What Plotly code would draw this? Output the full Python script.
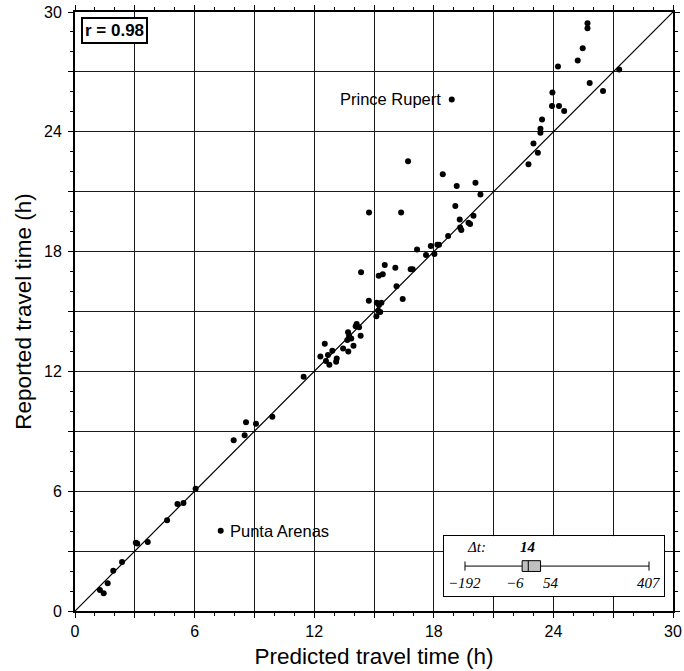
import plotly.graph_objects as go

# ---- data ----
predicted = [
    1.25, 1.44, 1.64, 1.92, 2.36, 3.05, 3.12, 3.65, 4.62, 5.14, 5.44, 6.05, 7.31,
    7.96, 8.51, 8.58, 9.08, 9.90, 11.47,
    12.31, 12.53, 12.69, 12.91, 12.59, 12.76, 13.13, 13.10, 13.45, 13.71, 13.97,
    13.66, 13.70, 13.75, 13.86, 14.33, 14.13, 14.08, 14.25, 15.12, 15.22, 15.31,
    14.74, 15.14, 15.37, 15.25, 16.44, 16.13,
    14.35, 15.24, 15.44, 15.54, 16.07, 16.84, 16.94, 17.61, 18.03, 17.85, 18.18,
    18.26, 17.16, 18.72, 19.32, 19.38, 19.74, 19.82, 19.30, 19.99, 19.08, 14.75,
    16.36, 20.34, 19.15, 20.09, 18.45, 16.71,
    22.75, 23.22, 23.00, 23.35, 23.35, 23.43, 23.93, 24.28, 24.54, 23.95, 25.82,
    26.49, 27.30, 24.23, 25.22, 25.47, 25.71, 25.71, 18.90,
]
reported = [
    1.05, 0.89, 1.39, 2.02, 2.45, 3.42, 3.38, 3.46, 4.54, 5.36, 5.41, 6.12, 4.02,
    8.55, 8.80, 9.45, 9.38, 9.73, 11.73,
    12.74, 13.39, 12.82, 13.04, 12.52, 12.33, 12.64, 12.48, 13.15, 13.00, 13.29,
    13.57, 13.96, 13.77, 13.65, 13.79, 14.37, 14.26, 14.21, 14.76, 15.04, 14.97,
    15.54, 15.44, 15.44, 15.32, 15.62, 16.27,
    16.96, 16.79, 16.86, 17.33, 17.19, 17.11, 17.11, 17.83, 17.88, 18.28, 18.34,
    18.34, 18.11, 18.78, 19.21, 19.08, 19.45, 19.38, 19.61, 19.80, 20.28, 19.96,
    19.96, 20.86, 21.28, 21.45, 21.87, 22.53,
    22.37, 22.95, 23.42, 23.95, 24.15, 24.62, 25.29, 25.29, 25.04, 25.97, 26.45,
    26.04, 27.12, 27.27, 27.57, 28.19, 29.19, 29.44, 25.62,
]

labelled_names = ["Prince Rupert", "Punta Arenas"]
labelled_x = [18.90, 7.31]
labelled_y = [25.62, 4.02]

axis_range = [0, 30]
grid_vals = [0, 3, 6, 9, 12, 15, 18, 21, 24, 27, 30]
tick_labels = ["0", "", "6", "", "12", "", "18", "", "24", "", "30"]

r_value = 0.98

# delay statistics (minutes) for the inset box plot
dt_min = -192
dt_q1 = -6
dt_median = 14
dt_q3 = 54
dt_max = 407

fig = go.Figure()

# 1:1 line
fig.add_trace(go.Scatter(
    x=axis_range, y=axis_range, mode="lines",
    line=dict(color="black", width=1.2), hoverinfo="skip", showlegend=False,
    xaxis="x", yaxis="y",
))

# points
fig.add_trace(go.Scatter(
    x=predicted, y=reported, mode="markers",
    marker=dict(color="black", size=6, line=dict(width=0)),
    showlegend=False, xaxis="x", yaxis="y",
))

# inset box plot
fig.add_trace(go.Box(
    y=[0], q1=[dt_q1], median=[dt_median], q3=[dt_q3],
    lowerfence=[dt_min], upperfence=[dt_max],
    orientation="h", width=0.36, whiskerwidth=0.85,
    fillcolor="#c0c0c0", line=dict(color="black", width=1),
    boxpoints=False, showlegend=False, xaxis="x2", yaxis="y2",
))

sans = "Liberation Sans, Arial, sans-serif"
axis_font = dict(family=sans, size=16, color="black")
title_font = dict(family=sans, size=22.5, color="black")

common = dict(
    range=axis_range, tickmode="array", tickvals=grid_vals, ticktext=tick_labels,
    showgrid=True, gridcolor="#1a1a1a", gridwidth=1,
    zeroline=False, showline=True, linecolor="black", linewidth=2,
    mirror="ticks", ticks="outside", ticklen=5, tickwidth=1, tickcolor="black",
    tickfont=axis_font, automargin=False,
    minor=dict(dtick=1, ticks="outside", ticklen=3, tickwidth=1, tickcolor="black", showgrid=False),
)

fig.update_layout(
    width=684, height=671,
    margin=dict(l=75, r=11, t=12, b=60, autoexpand=False),
    paper_bgcolor="white", plot_bgcolor="white",
    xaxis=dict(**common, title=dict(text="Predicted travel time (h)", font=title_font, standoff=9),
               domain=[0, 1]),
    yaxis=dict(**common, title=dict(text="Reported travel time (h)", font=title_font, standoff=6),
               domain=[0, 1], ticklabelstandoff=3),
    xaxis2=dict(domain=[0.617, 0.985], anchor="y2", range=[-260.4, 455.9],
                showgrid=False, zeroline=False, showticklabels=False, ticks="",
                showline=True, mirror=True, linecolor="black", linewidth=1),
    yaxis2=dict(domain=[0.025, 0.125], anchor="x2", range=[-1, 1],
                showgrid=False, zeroline=False, showticklabels=False, ticks="",
                showline=True, mirror=True, linecolor="black", linewidth=1),
)

serif = dict(family="Liberation Serif, Times New Roman, serif", size=15, color="black")
label_font = dict(family=sans, size=16.5, color="black")

annotations = [
    dict(text="<b>r = %.2f</b>" % r_value, xref="paper", yref="paper",
         x=0.010, y=0.992, xanchor="left", yanchor="top", showarrow=False,
         font=dict(family=sans, size=17, color="black"),
         bordercolor="black", borderwidth=2, borderpad=2, bgcolor="white"),
    dict(text=labelled_names[0], x=labelled_x[0], y=labelled_y[0], xref="x", yref="y",
         xanchor="right", yanchor="middle", xshift=-9, showarrow=False, font=label_font),
    dict(text=labelled_names[1], x=labelled_x[1], y=labelled_y[1], xref="x", yref="y",
         xanchor="left", yanchor="middle", xshift=7, showarrow=False, font=label_font),
    dict(text="<i>Δt:</i>", x=dt_min, y=0.64, xref="x2", yref="y2",
         xanchor="left", yanchor="middle", showarrow=False, font=serif),
    dict(text="<b><i>%d</i></b>" % dt_median, x=dt_median, y=0.64, xref="x2", yref="y2",
         xanchor="center", yanchor="middle", showarrow=False, font=serif),
    dict(text="<i>−%d</i>" % abs(dt_min), x=dt_min, y=-0.57, xref="x2", yref="y2",
         xanchor="center", yanchor="middle", showarrow=False, font=serif),
    dict(text="<i>−%d</i>" % abs(dt_q1), x=dt_q1, y=-0.57, xref="x2", yref="y2",
         xanchor="right", yanchor="middle", xshift=4, showarrow=False, font=serif),
    dict(text="<i>%d</i>" % dt_q3, x=dt_q3, y=-0.57, xref="x2", yref="y2",
         xanchor="left", yanchor="middle", showarrow=False, font=serif),
    dict(text="<i>%d</i>" % dt_max, x=dt_max, y=-0.57, xref="x2", yref="y2",
         xanchor="center", yanchor="middle", showarrow=False, font=serif),
]
fig.update_layout(annotations=annotations)

# remove the default 8 px page margin so the figure fills the window exactly
fig.write_html("out.html", config={"displayModeBar": False},
               post_script="document.body.style.margin='0';")
